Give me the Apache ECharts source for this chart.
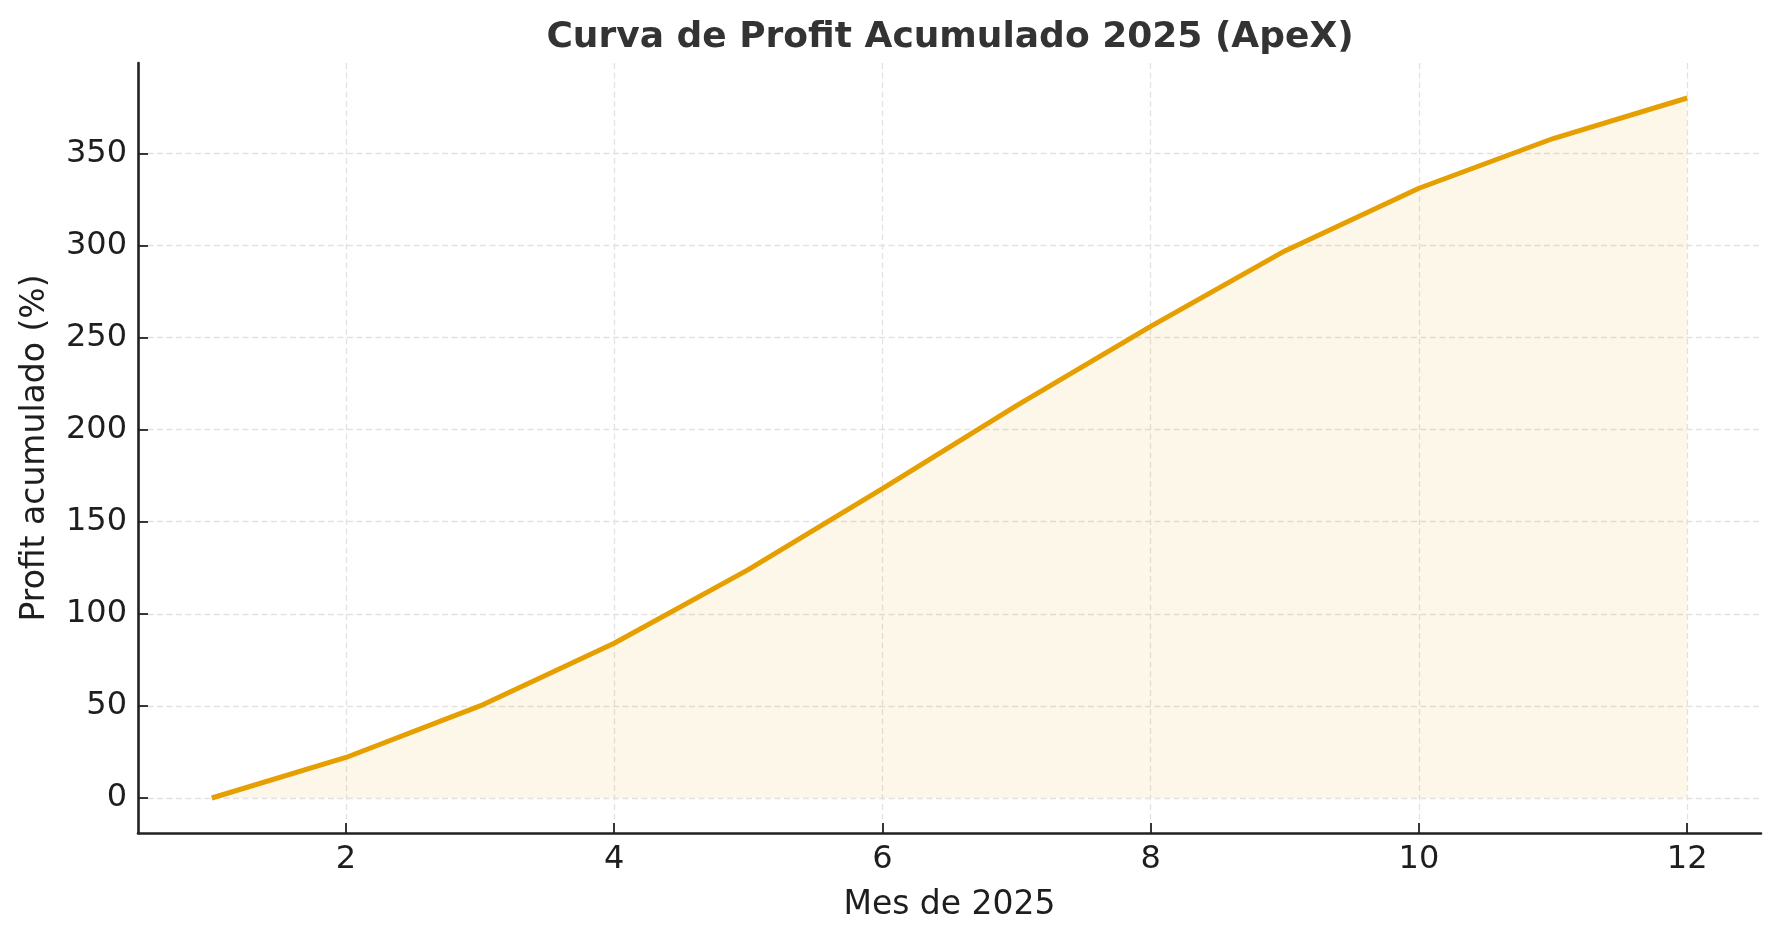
<!DOCTYPE html>
<html>
<head>
<meta charset="utf-8">
<script src="https://cdn.jsdelivr.net/npm/echarts@6/dist/echarts.min.js"></script>
<style>
html,body{margin:0;padding:0;background:#fff;}
#chart{width:1779px;height:940px;}
</style>
</head>
<body>
<div id="chart"></div>
<script>
const months = [1, 2, 3, 4, 5, 6, 7, 8, 9, 10, 11, 12];
const profit = [0, 22, 50, 84, 124, 168, 213, 256, 297, 331, 358, 380];
const xTicks = [2, 4, 6, 8, 10, 12];
const yTicks = [0, 50, 100, 150, 200, 250, 300, 350];
const titleText = 'Curva de Profit Acumulado 2025 (ApeX)';
const xName = 'Mes de 2025';
const yName = 'Profit acumulado (%)';

const FONT = 'DejaVu Sans';
const chart = echarts.init(document.getElementById('chart'), null, {renderer: 'canvas'});

const gridLine = {show: true, lineStyle: {color: '#e2e2e2', width: 1.3, type: [6, 3.5]}};

chart.setOption({
  animation: false,
  backgroundColor: '#ffffff',
  title: {
    text: titleText,
    left: 945,
    textAlign: 'center',
    top: 15,
    textStyle: {fontFamily: FONT, fontWeight: 'bold', fontSize: 36, color: '#333333'}
  },
  grid: {left: 138, right: 18, top: 63, bottom: 107, containLabel: false},
  xAxis: {
    type: 'value',
    min: 0.45,
    max: 12.55,
    name: xName,
    nameLocation: 'middle',
    nameGap: 56,
    nameTextStyle: {fontFamily: FONT, fontSize: 33, color: '#1e1e1e'},
    axisLine: {show: true, onZero: false, lineStyle: {color: '#222222', width: 2.6}},
    axisTick: {show: true, inside: true, length: 10, customValues: xTicks, lineStyle: {color: '#222222', width: 1.8}},
    axisLabel: {customValues: xTicks, margin: 11, fontFamily: FONT, fontSize: 32, color: '#1e1e1e'},
    splitLine: gridLine
  },
  yAxis: {
    type: 'value',
    min: -19,
    max: 399,
    name: yName,
    nameLocation: 'middle',
    nameGap: 86,
    nameRotate: 90,
    nameTextStyle: {fontFamily: FONT, fontSize: 33, color: '#1e1e1e'},
    axisLine: {show: true, onZero: false, lineStyle: {color: '#222222', width: 2.6}},
    axisTick: {show: true, inside: true, length: 10, customValues: yTicks, lineStyle: {color: '#222222', width: 1.8}},
    axisLabel: {customValues: yTicks, margin: 11, fontFamily: FONT, fontSize: 32, color: '#1e1e1e'},
    splitLine: gridLine
  },
  series: [{
    type: 'line',
    data: months.map((m, i) => [m, profit[i]]),
    showSymbol: false,
    symbol: 'none',
    lineStyle: {color: '#E69F00', width: 5},
    itemStyle: {color: '#E69F00'},
    areaStyle: {color: 'rgba(230,159,0,0.12)', origin: 0},
    z: 3
  }]
});
</script>
</body>
</html>
